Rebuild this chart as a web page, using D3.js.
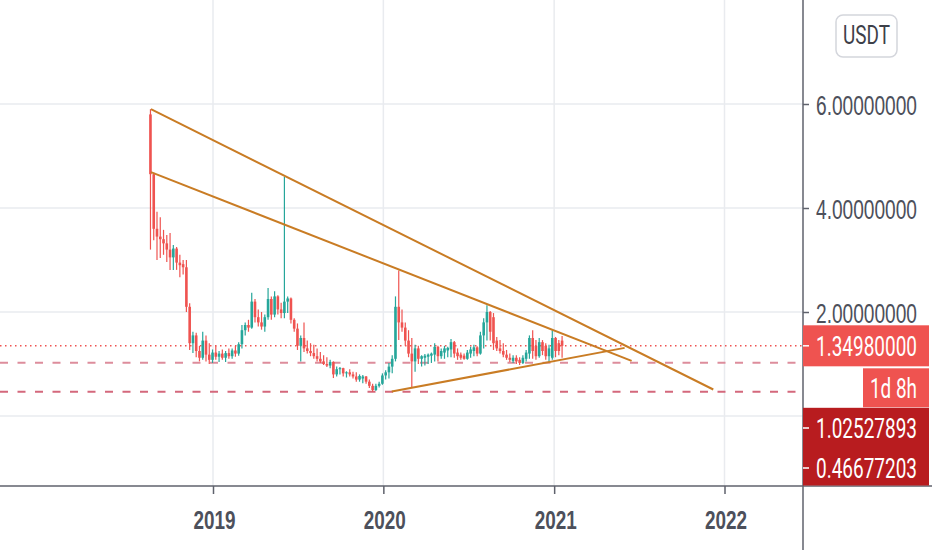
<!DOCTYPE html>
<html>
<head>
<meta charset="utf-8">
<script src="https://cdnjs.cloudflare.com/ajax/libs/d3/7.8.5/d3.min.js"></script>
<style>
  html, body { margin: 0; padding: 0; background: #fff; overflow: hidden; }
  svg { display: block; font-family: Roboto, "Noto Sans", sans-serif; }
</style>
</head>
<body>
<div id="canvas"></div>
<script>
/* DATA */
// weekly candles, first week opens 2018-08-20
const firstWeek = '2018-08-20';
const opens = [5.80,4.65,3.60,3.45,3.40,3.32,3.20,3.05,3.22,2.95,2.92,2.86,2.10,1.40,1.55,1.25,1.12,1.45,1.18,1.08,
  1.22,1.14,1.20,1.12,1.21,1.15,1.26,1.20,1.38,1.65,1.75,1.70,2.20,1.90,1.80,1.72,1.90,2.25,1.95,2.30,
  2.05,1.98,2.20,2.26,1.85,1.68,1.35,1.50,1.30,1.25,1.21,1.15,1.10,1.05,1.00,0.97,1.04,0.80,0.90,0.92,
  0.82,0.84,0.80,0.76,0.70,0.72,0.76,0.66,0.58,0.50,0.58,0.62,0.78,0.84,0.95,1.10,2.10,1.80,1.70,1.45,
  1.20,1.05,1.30,1.10,1.12,1.14,1.16,1.18,1.33,1.15,1.22,1.26,1.28,1.42,1.22,1.18,1.16,1.10,1.20,1.25,
  1.32,1.20,1.55,1.80,2.00,1.90,1.45,1.30,1.25,1.18,1.12,1.06,1.12,1.08,1.02,1.10,1.20,1.50,1.35,1.15,
  1.42,1.35,1.15,1.12,1.50,1.40,1.45];
const highs = [5.90,4.68,3.93,3.82,3.58,3.48,3.52,3.29,3.25,3.10,3.00,3.00,2.17,1.62,1.60,1.35,1.62,1.55,1.40,1.28,
  1.35,1.25,1.28,1.25,1.30,1.30,1.35,1.42,1.75,1.80,1.85,2.37,2.25,2.05,2.00,1.95,2.46,2.30,2.40,2.32,
  2.18,4.60,2.30,2.28,1.88,1.78,1.55,1.80,1.45,1.40,1.37,1.30,1.23,1.17,1.13,1.08,1.05,0.95,0.94,0.93,
  0.86,0.90,0.85,0.84,0.80,0.79,0.77,0.70,0.62,0.62,0.66,0.82,0.88,1.02,1.17,2.30,2.80,2.05,1.80,1.65,
  1.50,1.37,1.35,1.17,1.19,1.20,1.22,1.40,1.35,1.30,1.35,1.33,1.48,1.44,1.30,1.22,1.20,1.27,1.33,1.37,
  1.34,1.62,1.88,2.13,2.02,1.98,1.52,1.46,1.40,1.27,1.20,1.17,1.17,1.13,1.17,1.27,1.55,1.65,1.46,1.50,
  1.46,1.40,1.37,1.65,1.52,1.46,1.54];
const lows = [3.20,3.38,3.00,3.04,3.10,2.96,2.81,2.81,2.81,2.67,2.72,2.00,1.27,1.21,1.13,1.05,1.08,1.05,1.00,1.02,
  1.08,1.04,1.08,1.04,1.10,1.10,1.14,1.16,1.30,1.55,1.62,1.68,1.80,1.72,1.66,1.62,1.85,1.85,1.90,1.95,
  1.88,1.88,1.98,1.78,1.62,1.27,1.05,1.23,1.20,1.15,1.10,1.05,1.02,0.98,0.94,0.92,0.73,0.76,0.80,0.76,
  0.74,0.76,0.72,0.66,0.66,0.63,0.62,0.54,0.4668,0.48,0.55,0.60,0.70,0.72,0.82,1.05,1.46,1.62,1.35,1.13,
  0.56,0.85,1.00,0.95,0.97,1.00,1.02,1.05,1.05,1.10,1.10,1.13,1.13,1.12,1.08,1.08,1.08,1.08,1.12,1.15,
  1.15,1.18,1.30,1.45,1.45,1.27,1.25,1.20,1.13,1.08,1.04,1.02,1.00,0.98,1.00,1.05,1.10,1.10,1.08,1.12,
  1.17,1.08,1.04,1.08,1.13,1.17,1.12];
const closes = [4.65,3.60,3.45,3.40,3.32,3.20,3.05,3.22,2.95,2.90,2.86,2.10,1.40,1.55,1.25,1.12,1.45,1.18,1.08,1.22,
  1.14,1.20,1.12,1.21,1.15,1.26,1.20,1.38,1.65,1.75,1.70,2.20,1.90,1.80,1.72,1.90,2.25,1.95,2.30,2.05,
  1.98,2.20,2.26,1.85,1.68,1.35,1.50,1.30,1.25,1.21,1.15,1.10,1.05,1.00,0.97,1.04,0.80,0.90,0.92,0.82,
  0.84,0.80,0.76,0.70,0.77,0.76,0.66,0.58,0.50,0.58,0.62,0.78,0.84,0.95,1.10,2.10,1.80,1.70,1.45,1.20,
  1.05,1.30,1.10,1.15,1.16,1.18,1.20,1.33,1.15,1.25,1.30,1.31,1.42,1.20,1.15,1.12,1.10,1.22,1.28,1.32,
  1.20,1.55,1.80,2.00,1.62,1.40,1.30,1.25,1.18,1.12,1.08,1.12,1.05,1.02,1.12,1.22,1.50,1.25,1.15,1.42,
  1.25,1.15,1.30,1.50,1.25,1.25,1.3498];

const yTicks = [2, 4, 6];
const gridY = [0, 2, 4, 6];
const yearTicks = ['2019-01-01', '2020-01-01', '2021-01-01', '2022-01-01'];

const lastPrice = 1.3498;
const levelA = 1.02527893;
const levelB = 0.46677203;
const countdown = '1d 8h';
const currency = 'USDT';

// hand drawn trend lines: [date, price]
const outerLine = [['2018-08-21', 5.90], ['2021-12-08', 0.51]];
const innerLine = [['2018-08-21', 4.69], ['2021-06-16', 1.06]];
const supportLine = [['2020-01-19', 0.47], ['2021-06-01', 1.31]];

/* SETUP */
const width = 932, height = 550;
const axisX = 803, axisY = 486;
const up = '#26a69a', down = '#ef5350', trend = '#c97c24';
const textCol = '#4d505b', axisCol = '#5f626c', gridCol = '#e9ebef';
const tall = 'scale(1,1.4)'; // the labels are tall and narrow

const parse = d3.utcParse('%Y-%m-%d');
const start = parse(firstWeek);
const candles = opens.map((o, i) => ({
  date: d3.utcDay.offset(start, 7 * i), o: o, h: highs[i], l: lows[i], c: closes[i]
}));

const x = d3.scaleUtc()
  .domain([parse('2019-01-01'), parse('2022-01-01')])
  .range([213, 724.5]);
const y = d3.scaleLinear()
  .domain([0, 6])
  .range([416, 104]);

const svg = d3.select('#canvas')
  .append('svg')
    .attr('width', width)
    .attr('height', height);

// grid
svg.append('g')
  .selectAll('line')
  .data(gridY)
  .join('line')
    .attr('x1', 0).attr('x2', axisX)
    .attr('y1', d => y(d)).attr('y2', d => y(d))
    .attr('stroke', gridCol).attr('stroke-width', 1.5);
svg.append('g')
  .selectAll('line')
  .data(yearTicks)
  .join('line')
    .attr('x1', d => x(parse(d))).attr('x2', d => x(parse(d)))
    .attr('y1', 0).attr('y2', axisY)
    .attr('stroke', gridCol).attr('stroke-width', 1.5);

// price level lines
svg.append('line')
  .attr('x1', 0).attr('x2', axisX)
  .attr('y1', y(lastPrice)).attr('y2', y(lastPrice))
  .attr('stroke', '#ef5350').attr('stroke-width', 1.5)
  .attr('stroke-dasharray', '1.5,3.5');
svg.append('line')
  .attr('x1', 0).attr('x2', axisX)
  .attr('y1', y(levelA)).attr('y2', y(levelA))
  .attr('stroke', '#dd8d9c').attr('stroke-width', 2)
  .attr('stroke-dasharray', '8,9.5');
svg.append('line')
  .attr('x1', 0).attr('x2', axisX)
  .attr('y1', y(levelB)).attr('y2', y(levelB))
  .attr('stroke', '#d4687c').attr('stroke-width', 2)
  .attr('stroke-dasharray', '8,9.5');

// candles
const cg = svg.append('g');
cg.selectAll('line')
  .data(candles)
  .join('line')
    .attr('x1', d => x(d.date)).attr('x2', d => x(d.date))
    .attr('y1', d => y(d.h)).attr('y2', d => y(d.l))
    .attr('stroke', d => d.c >= d.o ? up : down)
    .attr('stroke-width', 1.2);
cg.selectAll('rect')
  .data(candles)
  .join('rect')
    .attr('x', d => x(d.date) - 1.3)
    .attr('width', 2.6)
    .attr('y', d => y(Math.max(d.o, d.c)))
    .attr('height', d => Math.max(1, Math.abs(y(d.o) - y(d.c))))
    .attr('fill', d => d.c >= d.o ? up : down);

// trend lines
const line = d3.line()
  .x(d => x(parse(d[0])))
  .y(d => y(d[1]));
svg.append('g')
  .selectAll('path')
  .data([outerLine, innerLine, supportLine])
  .join('path')
    .attr('d', line)
    .style('fill', 'none')
    .style('stroke', trend)
    .style('stroke-width', 2);

// axes frame
svg.append('line')
  .attr('x1', axisX).attr('x2', axisX).attr('y1', 0).attr('y2', height)
  .attr('stroke', axisCol).attr('stroke-width', 1.5);
svg.append('line')
  .attr('x1', 0).attr('x2', width).attr('y1', axisY).attr('y2', axisY)
  .attr('stroke', axisCol).attr('stroke-width', 1.5);

// right axis
const yAxis = d3.axisRight(y)
  .tickValues(yTicks)
  .tickFormat(d3.format('.8f'))
  .tickSize(6)
  .tickPadding(6);
const ya = svg.append('g')
  .attr('transform', `translate(${axisX},0)`)
  .call(yAxis);
ya.select('.domain').remove();
ya.selectAll('.tick line').attr('stroke', axisCol).attr('stroke-width', 1.5);
ya.selectAll('.tick text')
  .attr('x', null).attr('dy', null)
  .attr('transform', `translate(13,10) ${tall}`)
  .attr('fill', textCol)
  .attr('font-size', 20)
  .attr('textLength', 101)
  .attr('lengthAdjust', 'spacingAndGlyphs');

// bottom axis
const xAxis = d3.axisBottom(x)
  .tickValues(yearTicks.map(parse))
  .tickFormat(d3.utcFormat('%Y'))
  .tickSize(8);
const xa = svg.append('g')
  .attr('transform', `translate(0,${axisY})`)
  .call(xAxis);
xa.select('.domain').remove();
xa.selectAll('.tick line').attr('stroke', axisCol).attr('stroke-width', 1.5);
xa.selectAll('.tick text')
  .attr('y', null).attr('dy', null)
  .attr('transform', `translate(1,43) ${tall}`)
  .attr('fill', textCol)
  .attr('font-size', 18)
  .attr('font-weight', 'bold')
  .attr('textLength', 42)
  .attr('lengthAdjust', 'spacingAndGlyphs');

// price labels on the axis
function label(txt, x0, yMid, fill, w) {
  svg.append('text')
    .attr('transform', `translate(${x0},${yMid + 10}) ${tall}`)
    .attr('fill', fill)
    .attr('font-size', 20)
    .attr('textLength', w)
    .attr('lengthAdjust', 'spacingAndGlyphs')
    .text(txt);
}
const fmt = d3.format('.8f');
const yl = y(lastPrice);
svg.append('rect')
  .attr('x', axisX).attr('y', yl - 20.5).attr('width', 126).attr('height', 41)
  .attr('fill', '#ef5350');
svg.append('line')
  .attr('x1', axisX).attr('x2', axisX + 6).attr('y1', yl).attr('y2', yl)
  .attr('stroke', '#fff').attr('stroke-width', 1.5);
label(fmt(lastPrice), 816, yl, '#fff', 101);

svg.append('rect')
  .attr('x', 863).attr('y', yl + 22.5).attr('width', 66).attr('height', 39)
  .attr('fill', '#ef5350');
label(countdown, 870, yl + 42, '#fff', 47);

svg.append('rect')
  .attr('x', axisX).attr('y', yl + 62).attr('width', 126).attr('height', axisY - yl - 62.5)
  .attr('fill', '#b81c1f');
[[levelA, 428], [levelB, 468]].forEach(([v, yc]) => {
  svg.append('line')
    .attr('x1', axisX).attr('x2', axisX + 6).attr('y1', yc).attr('y2', yc)
    .attr('stroke', '#fff').attr('stroke-width', 1.5);
  label(fmt(v), 816, yc, '#fff', 101);
});

// currency button
svg.append('rect')
  .attr('x', 836).attr('y', 15).attr('width', 61).attr('height', 42).attr('rx', 7)
  .attr('fill', '#fff').attr('stroke', '#d4d6dc').attr('stroke-width', 1.5);
svg.append('text')
  .attr('transform', `translate(866.5,44) ${tall}`)
  .attr('text-anchor', 'middle')
  .attr('fill', '#3d4049')
  .attr('font-size', 18)
  .attr('textLength', 47)
  .attr('lengthAdjust', 'spacingAndGlyphs')
  .text(currency);
</script>
</body>
</html>
